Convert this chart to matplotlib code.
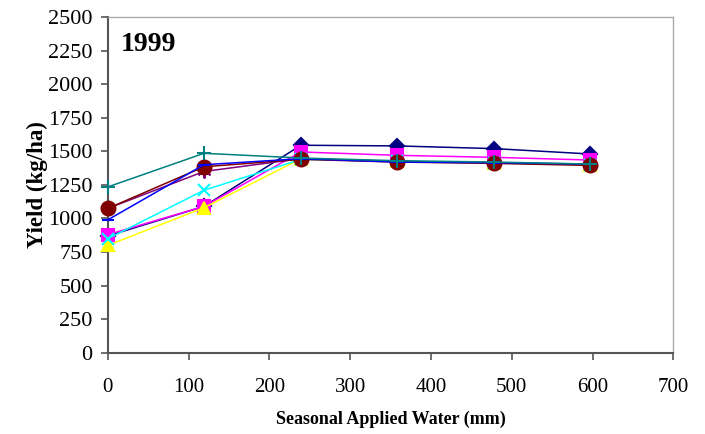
import numpy as np
import matplotlib
matplotlib.use("Agg")
import matplotlib.pyplot as plt

plt.rcParams["font.family"] = ["Liberation Serif", "DejaVu Serif"]

water = [0, 119, 239, 358, 478, 597]

navy = [870, 1090, 1545, 1540, 1520, 1480]
magenta = [880, 1090, 1495, 1470, 1455, 1435]
yellow = [800, 1080, 1445, 1425, 1415, 1400]
cyan = [850, 1210, 1440, 1425, 1415, 1400]
purple = [1075, 1350, 1445, 1425, 1415, 1400]
maroon = [1075, 1385, 1440, 1420, 1410, 1395]
blue = [990, 1400, 1445, 1420, 1415, 1405]
teal = [1235, 1485, 1450, 1430, 1420, 1405]

series = [
    (navy, "#000080", "D", 7),
    (magenta, "#FF00FF", "s", 8),
    (yellow, "#FFFF00", "^", 9),
    (cyan, "#00FFFF", "x", 9),
    (purple, "#800080", (6, 2, 0), 10),
    (maroon, "#800000", "o", 10),
    (blue, "#0000FF", "_", 9),
    (teal, "#008080", "+", 10),
]

fig = plt.figure(figsize=(7.05, 4.34), dpi=100)
ax = fig.add_axes([0.153, 0.187, 0.802, 0.774])

for vals, col, mk, ms in series:
    ax.plot(water, vals, color=col, marker=mk, markersize=ms, linewidth=1.1,
            markeredgecolor=col, markerfacecolor=col, markeredgewidth=1.5,
            clip_on=False, zorder=3)

ax.set_xlim(0, 700)
ax.set_ylim(0, 2500)
ax.set_xticks(np.arange(0, 701, 100))
ax.set_yticks(np.arange(0, 2501, 250))
ax.tick_params(direction="out", length=5, width=1.2, color="#555555")
ax.tick_params(axis="y", labelsize=16, pad=6)
ax.tick_params(axis="x", labelsize=15, pad=13)
for s in ["left", "bottom"]:
    ax.spines[s].set_color("#555555")
    ax.spines[s].set_linewidth(1.5)
for s in ["top", "right"]:
    ax.spines[s].set_color("#aaaaaa")
    ax.spines[s].set_linewidth(1)

ax.set_xlabel("Seasonal Applied Water (mm)", fontsize=13, fontweight="bold",
              labelpad=10)
ax.set_ylabel("Yield (kg/ha)", fontsize=16.5, fontweight="bold", labelpad=0)
ax.text(0.022, 0.917, "1999", transform=ax.transAxes, fontsize=20,
        fontweight="bold", va="center", ha="left")

fig.savefig("out.png", dpi=100)
